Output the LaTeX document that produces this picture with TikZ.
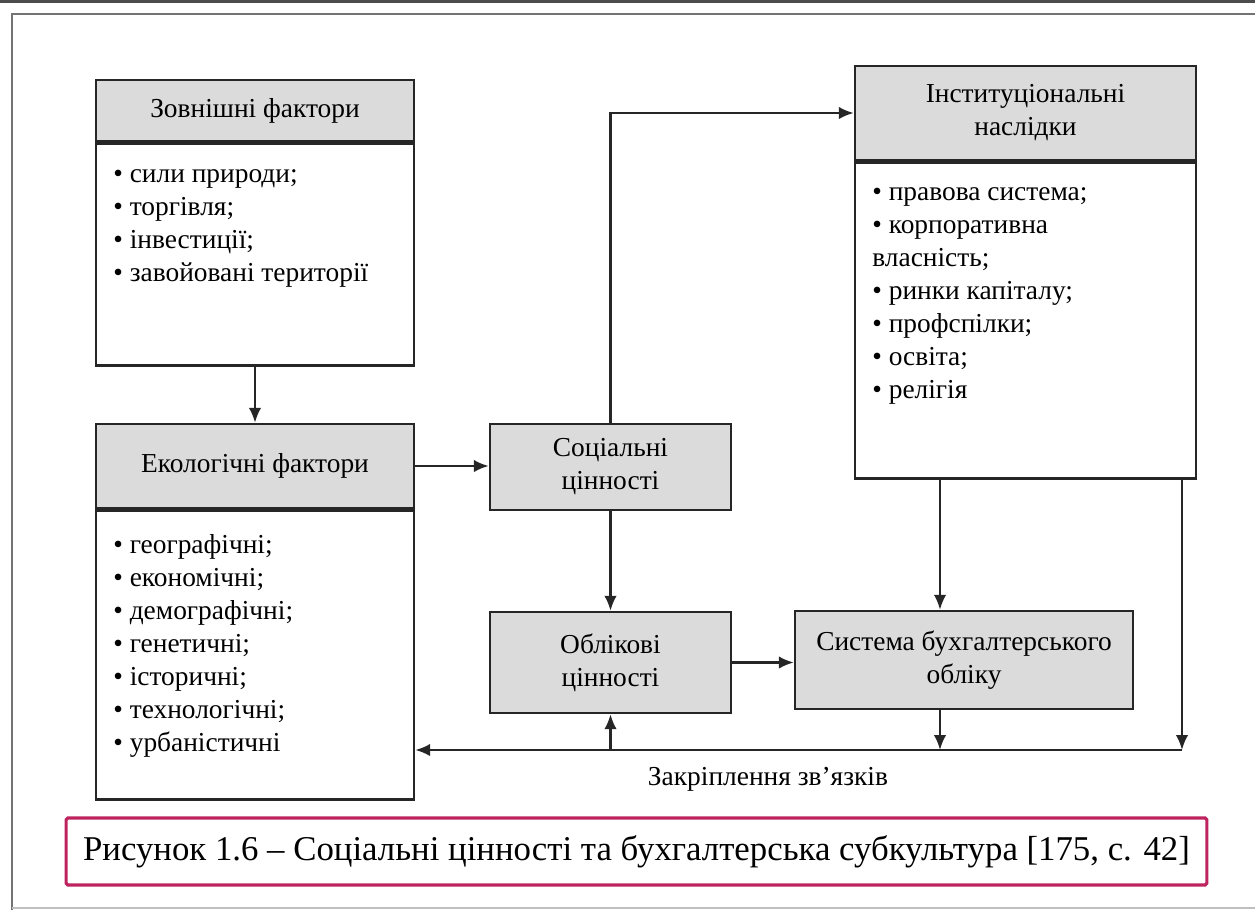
\documentclass[tikz,border=0pt]{standalone}
\usepackage{fontspec}
\setmainfont{Liberation Serif}
\usetikzlibrary{arrows.meta,calc}

\definecolor{capcol}{RGB}{190,35,95}

\tikzset{
  head/.style={draw=black!85, line width=1.4pt, fill=black!14, align=center, inner sep=0pt},
  body/.style={draw=black!85, line width=1.4pt, inner sep=0pt},
  list/.style={anchor=north west, align=left, inner sep=0pt},
  link/.style={line width=1.3pt, draw=black!85, -{Latex[length=0.3cm,width=0.25cm]}},
}

\begin{document}
\begin{tikzpicture}[x=0.02cm, y=-0.02cm, font=\fontsize{15.6}{18.8}\selectfont]
    \useasboundingbox (0,0) rectangle (1255,910);
    \fill [black!70] (0,0) rectangle (1255,3);
    \draw [black!55, line width=1.2pt] (12,910) -- (12,14) -- (1255,14);
    \draw [black!25, line width=0.8pt] (12,908) -- (1255,908);

    \node [head, minimum width=6.36cm, minimum height=1.22cm] (zhead) at (255,110.5) {Зовнішні фактори};
    \node [body, minimum width=6.36cm, minimum height=4.44cm, anchor=north] (zbody) at (zhead.south) {};
    \node [list] (zlist) at (113,169) {• сили природи;\\• торгівля;\\• інвестиції;\\• завойовані території};

    \node [head, minimum width=6.36cm, minimum height=1.68cm] (ehead) at (255,466) {Екологічні фактори};
    \node [body, minimum width=6.36cm, minimum height=5.78cm, anchor=north] (ebody) at (ehead.south) {};
    \node [list] (elist) at (113,534) {• географічні;\\• економічні;\\• демографічні;\\• генетичні;\\• історичні;\\• технологічні;\\• урбаністичні};

    \node [head, minimum width=4.82cm, minimum height=1.72cm] (social) at (610.5,467) {Соціальні\\цінності};

    \node [head, minimum width=6.82cm, minimum height=1.88cm] (ihead) at (1025.5,113) {Інституціональні\\наслідки};
    \node [body, minimum width=6.82cm, minimum height=6.32cm, anchor=north] (ibody) at (ihead.south) {};
    \node [list] (ilist) at (872,187) {• правова система;\\• корпоративна\\власність;\\• ринки капіталу;\\• профспілки;\\• освіта;\\• релігія};

    \node [head, minimum width=4.82cm, minimum height=2.02cm] (oblik) at (610.5,662.5) {Облікові\\цінності};
    \node [head, minimum width=6.76cm, minimum height=1.96cm] (system) at (964,660) {Система бухгалтерського\\обліку};

    \coordinate (fbr) at (1182,750);
    \draw [link] (zbody.south) -- (ehead.north);
    \draw [link] (ehead.east) -- (ehead.east -| social.west);
    \draw [link] (social.north) |- (ihead.west);
    \draw [link] (social.south) -- (oblik.north);
    \draw [link] (oblik.east) -- (oblik.east -| system.west);
    \draw [link] ([xshift=-1.71cm]ibody.south) -- ([xshift=-1.71cm]ibody.south |- system.north);
    \draw [link] (fbr |- ibody.south) -- (fbr);
    \draw [link] (fbr) -- (fbr -| ebody.east);
    \draw [link] ([xshift=-0.48cm]system.south) -- ([xshift=-0.48cm]system.south |- fbr);
    \draw [link] (oblik.south |- fbr) -- (oblik.south);

    \node (fbtext) at (768,779) {Закріплення зв’язків};

    \node [draw=capcol, line width=1.8pt, rounded corners=1pt, minimum width=22.82cm, minimum height=1.34cm, font=\fontsize{19.8}{23}\selectfont] (caption) at (636.5,851.5) {Рисунок 1.6 – Соціальні цінності та бухгалтерська субкультура [175, с. 42]};
\end{tikzpicture}
\end{document}
